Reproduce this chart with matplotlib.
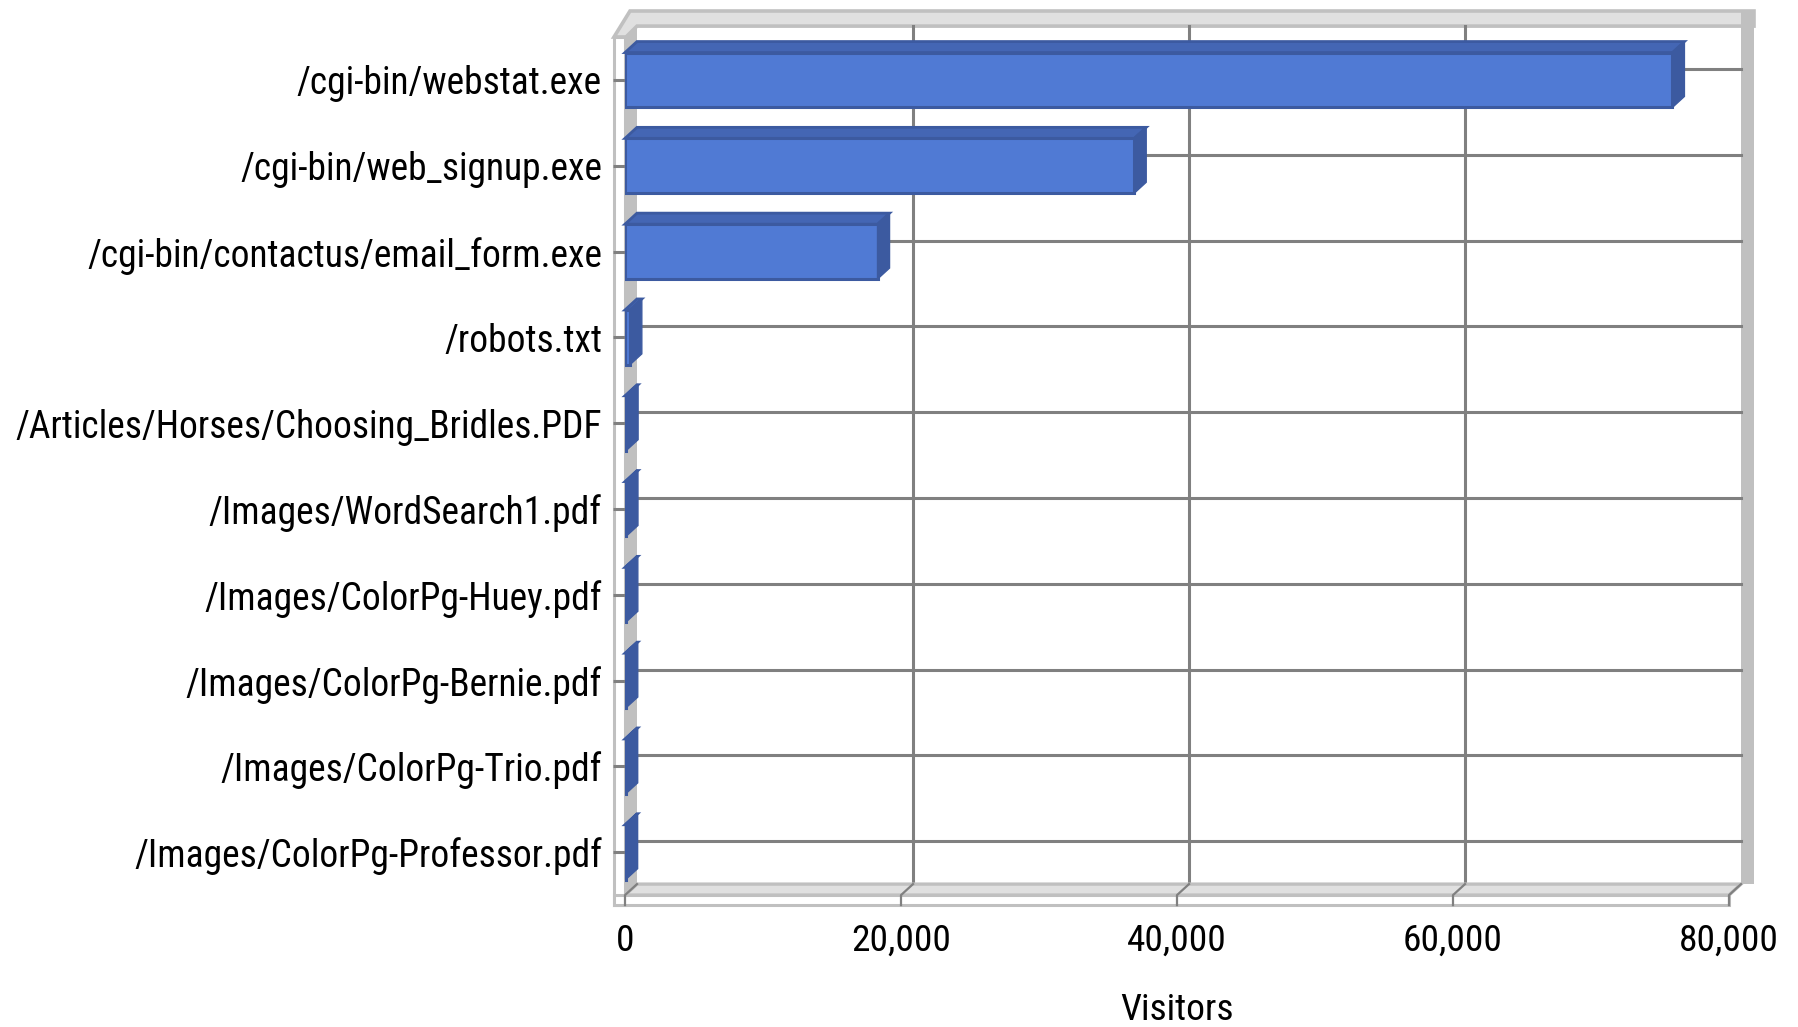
import matplotlib
matplotlib.use("Agg")
import matplotlib.pyplot as plt
from matplotlib import font_manager
from matplotlib.patches import Polygon, Rectangle

# narrow font if there is one, else Arial-like
installed = {f.name for f in font_manager.fontManager.ttflist}
family = 'DejaVu Sans'
for cand in ['Liberation Sans Narrow', 'Roboto Condensed', 'Open Sans Condensed', 'Liberation Sans', 'Roboto']:
    if cand in installed:
        family = cand
        break
plt.rcParams['font.family'] = [family, 'DejaVu Sans']

# page hits, top ten files
pages = ['/cgi-bin/webstat.exe', '/cgi-bin/web_signup.exe', '/cgi-bin/contactus/email_form.exe',
         '/robots.txt', '/Articles/Horses/Choosing_Bridles.PDF', '/Images/WordSearch1.pdf',
         '/Images/ColorPg-Huey.pdf', '/Images/ColorPg-Bernie.pdf', '/Images/ColorPg-Trio.pdf',
         '/Images/ColorPg-Professor.pdf']
visitors = [75900, 36900, 18300, 350, 80, 70, 60, 55, 50, 45]
xticks = [0, 20000, 40000, 60000, 80000]
xmax = 80000

face = '#507ad4'
top_face = '#4466b4'
dark = '#3c5aa0'
grid = '#808080'
wall = '#c0c0c0'
wall_light = '#e0e0e0'

W, H = 1798, 1027
ax_left, ax_right = 625, 1729       # pixel span of 0..80000 on the front plane
row0, row_step = 80, 85.8           # pixel centre of first row, row spacing
n = len(pages)

fig = plt.figure(figsize=(W / 100, H / 100), dpi=100)
top_px = row0 - row_step / 2
bot_px = row0 + row_step * (n - 0.5)
ax = fig.add_axes([ax_left / W, 1 - bot_px / H, (ax_right - ax_left) / W, (bot_px - top_px) / H])
ax.set_xlim(0, xmax)
ax.set_ylim(n - 0.5, -0.5)

# size the text so its width matches the original narrow font
renderer = fig.canvas.get_renderer()


def fit_size(s, width_px):
    t = fig.text(0, 0, s, fontsize=30)
    w = t.get_window_extent(renderer).width
    t.remove()
    return min(30, 30 * width_px / w)


cat_size = fit_size('/Articles/Horses/Choosing_Bridles.PDF', 588)
num_size = fit_size('20,000', 100)


# pixel -> data helpers for the wall decoration
def xd(px):
    return (px - ax_left) * xmax / (ax_right - ax_left)


def yd(py):
    return (py - row0) / row_step


dx = xd(ax_left + 12)   # depth offset of the 3d look
dy = 11 / row_step
top_y = -0.5
bot_y = n - 0.5
floor_h = yd(905) - yd(895)


def poly(pts, fc, ec='none', lw=0, z=1):
    ax.add_patch(Polygon(pts, closed=True, facecolor=fc, edgecolor=ec, linewidth=lw,
                         zorder=z, clip_on=False, joinstyle='miter'))


# top edge of back wall
poly([(xd(614), yd(37)), (xd(626), yd(37)), (dx, top_y - dy), (xd(1754), top_y - dy),
      (xd(1754), yd(11)), (xd(630), yd(11))], wall_light, wall, 2.6, 0.5)
# right edge of back wall
ax.add_patch(Rectangle((xmax + dx, yd(11)), xd(1754) - xmax - dx, bot_y - dy - yd(11),
                       facecolor=wall, edgecolor='none', zorder=0.6, clip_on=False))
# left wall
poly([(0, top_y), (dx, top_y - dy), (dx, bot_y - dy), (0, bot_y)], wall, z=0.7)
ax.add_patch(Rectangle((xd(614), top_y), -xd(614), bot_y + floor_h - top_y,
                       facecolor='white', edgecolor=wall, linewidth=2.2, zorder=0.8, clip_on=False))
# floor
poly([(0, bot_y), (dx, bot_y - dy), (xmax + dx, bot_y - dy), (xmax, bot_y)], wall_light, wall, 2.4, 2)
ax.add_patch(Rectangle((xd(614), bot_y), xmax - xd(614), floor_h,
                       facecolor='white', edgecolor=wall, linewidth=2.2, zorder=2, clip_on=False))
for v in xticks:
    ax.plot([v + dx, v, v], [bot_y - dy, bot_y, bot_y + floor_h], color=grid,
            lw=1.6, zorder=2.1, clip_on=False)

# gridlines on the back wall
for v in xticks[1:-1]:
    ax.plot([v + dx, v + dx], [top_y - dy, bot_y - dy], color=grid, lw=2.2, zorder=1, clip_on=False)
for i in range(n):
    ax.plot([dx, xmax + dx], [i - dy, i - dy], color=grid, lw=2.2, zorder=1, clip_on=False)

# bars
h = 0.64
ys = list(range(n))
ax.barh(ys, visitors, height=h, color=face, edgecolor=dark, linewidth=2.2, zorder=3)
for i, v in zip(ys, visitors):
    poly([(0, i - h / 2), (dx, i - h / 2 - dy), (v + dx, i - h / 2 - dy), (v, i - h / 2)],
         top_face, dark, 2.0, 3)
    poly([(v, i - h / 2), (v + dx, i - h / 2 - dy), (v + dx, i + h / 2 - dy), (v, i + h / 2)],
         dark, dark, 1.0, 3)

for s in ax.spines.values():
    s.set_visible(False)

ax.set_yticks(ys)
ax.set_yticklabels(pages, fontsize=cat_size)
ax.tick_params(axis='y', length=8.6, width=2.2, color=grid, pad=8)
ax.set_xticks(xticks)
ax.set_xticklabels([f'{v:,}' for v in xticks], fontsize=num_size)
ax.tick_params(axis='x', length=0, pad=20)
ax.set_xlabel('Visitors', fontsize=num_size, labelpad=24)

fig.savefig('out.png', dpi=100, facecolor='white')
